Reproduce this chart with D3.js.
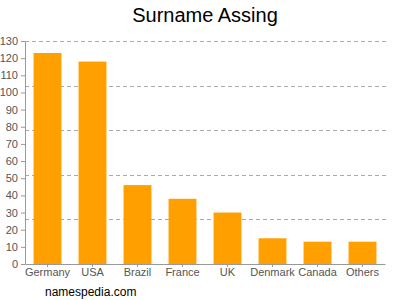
<!DOCTYPE html>
<html>
<head>
<meta charset="utf-8">
<script src="https://cdn.jsdelivr.net/npm/d3@7"></script>
<style>
  body { margin: 0; background: #fff; }
  svg { font-family: Arial, "Liberation Sans", sans-serif; }
  .axis text { fill: #555; font-size: 11px; }
  .axis path, .axis line { stroke: #999; }
</style>
</head>
<body>
<div id="container"></div>
<script>
// Data
const countries = ["Germany", "USA", "Brazil", "France", "UK", "Denmark", "Canada", "Others"];
const counts = [123, 118, 46, 38, 30, 15, 13, 13];
const yTicks = [0, 10, 20, 30, 40, 50, 60, 70, 80, 90, 100, 110, 120, 130];
const gridValues = [26, 52, 78, 104, 130];

const width = 400, height = 300;
const margin = { left: 25, right: 385, top: 41, bottom: 264 };

const svg = d3.select("#container").append("svg")
    .attr("width", width)
    .attr("height", height);

// Scales
const x = d3.scaleBand()
    .domain(countries)
    .range([margin.left, margin.right])
    .paddingInner(0.38)
    .paddingOuter(0.19);

const y = d3.scaleLinear()
    .domain([0, 130])
    .range([margin.bottom, margin.top]);

// Grid lines (dashed)
svg.append("g")
    .selectAll("line")
    .data(gridValues)
    .enter().append("line")
    .attr("x1", margin.left)
    .attr("x2", margin.right + 3)
    .attr("y1", d => Math.round(y(d)) + 0.5)
    .attr("y2", d => Math.round(y(d)) + 0.5)
    .attr("stroke", "#aaa")
    .attr("stroke-dasharray", "4,3");

// Bars
svg.selectAll(".bar")
    .data(countries)
    .enter().append("rect")
    .attr("class", "bar")
    .attr("x", d => x(d))
    .attr("y", (d, i) => y(counts[i]))
    .attr("width", x.bandwidth())
    .attr("height", (d, i) => margin.bottom - y(counts[i]))
    .attr("fill", "#ffa000");

// Y axis
svg.append("g")
    .attr("class", "axis")
    .attr("transform", `translate(${margin.left},0)`)
    .call(d3.axisLeft(y).tickValues(yTicks).tickSize(4).tickSizeOuter(0));

// X axis
svg.append("g")
    .attr("class", "axis")
    .attr("transform", `translate(0,${margin.bottom})`)
    .call(d3.axisBottom(x).tickSize(3).tickSizeOuter(0))
    .selectAll("text")
    .attr("y", 4)
    .attr("dy", "0.71em");

// Title
svg.append("text")
    .attr("x", 205)
    .attr("y", 22)
    .attr("text-anchor", "middle")
    .style("font-size", "20px")
    .style("fill", "#000")
    .text("Surname Assing");

// Footer
svg.append("text")
    .attr("x", 45)
    .attr("y", 296)
    .style("font-size", "12px")
    .style("fill", "#000")
    .text("namespedia.com");
</script>
</body>
</html>
